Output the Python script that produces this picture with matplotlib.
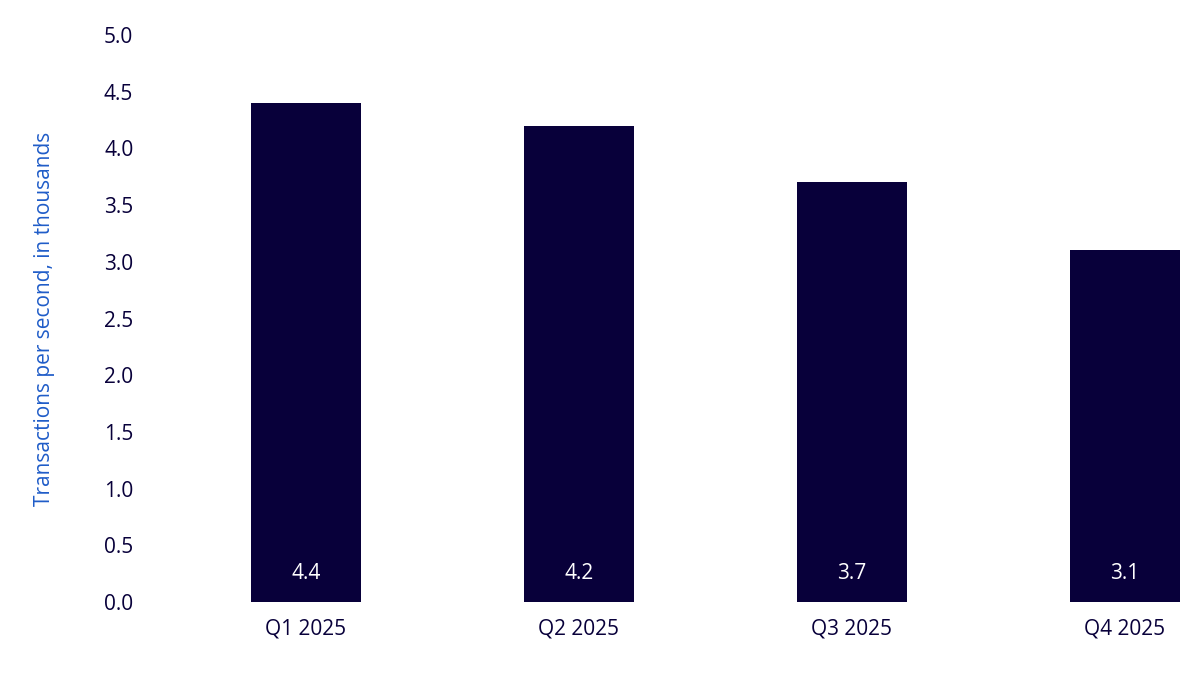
import matplotlib
matplotlib.use("Agg")
from matplotlib import pyplot as plt

quarters = ["Q1 2025", "Q2 2025", "Q3 2025", "Q4 2025"]
tps = [4.4, 4.2, 3.7, 3.1]
yticks = [0.0, 0.5, 1.0, 1.5, 2.0, 2.5, 3.0, 3.5, 4.0, 4.5, 5.0]

navy = "#08003a"
plt.rcParams['font.family'] = ['Open Sans', 'DejaVu Sans']

fig = plt.figure(figsize=(12, 6.85), dpi=100)
ax = fig.add_axes([0.125, 0.121, 0.867, 0.828])
x = list(range(len(quarters)))
ax.bar(x, tps, width=0.403, color=navy)
for xi, v in zip(x, tps):
    ax.text(xi, 0.25, f"{v:.1f}", color="white", ha="center", va="center", fontsize=15)

ax.set_xlim(-0.571, 3.24)
ax.set_ylim(0, 5.0)
ax.set_yticks(yticks)
ax.set_yticklabels([f"{t:.1f}" for t in yticks])
ax.set_xticks(x)
ax.set_xticklabels(quarters)
ax.tick_params(axis="both", length=0, labelsize=15, colors=navy, pad=12)
for s in ax.spines.values():
    s.set_visible(False)
ax.set_ylabel("Transactions per second, in thousands", color="#1f5cc8", fontsize=15, labelpad=35)

fig.savefig("out.png", dpi=100)
